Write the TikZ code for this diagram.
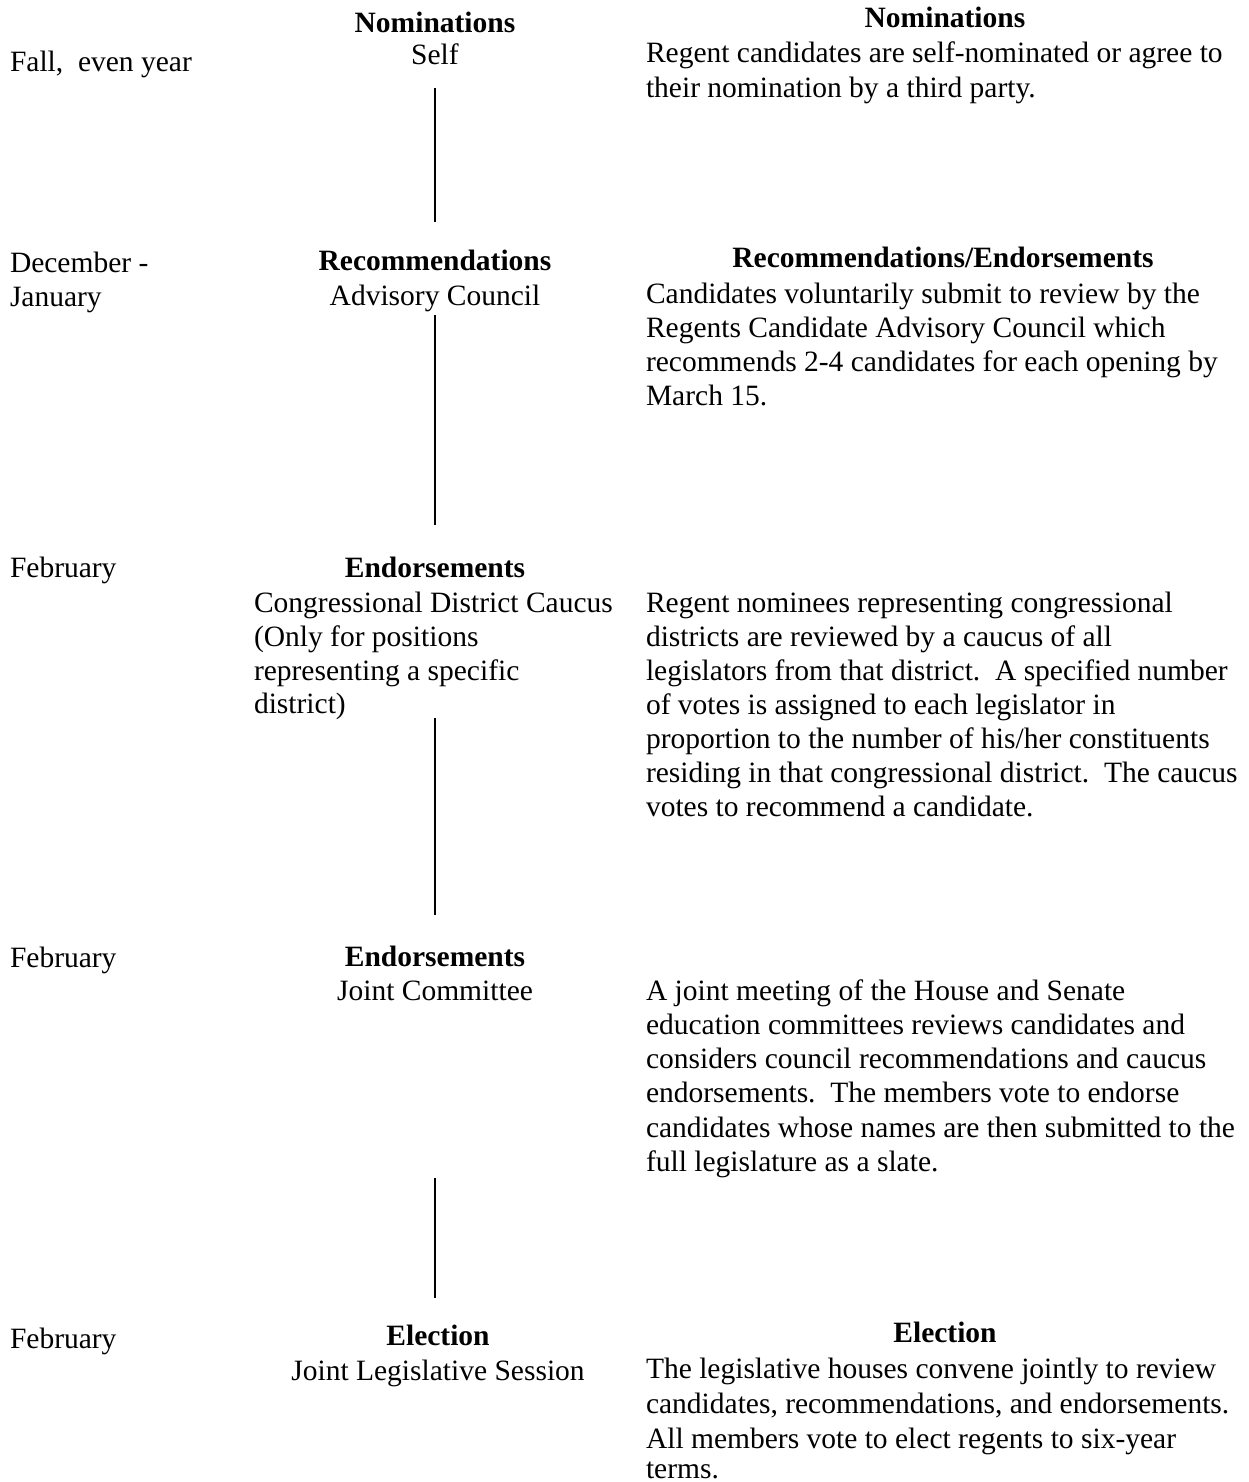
\documentclass[tikz,border=0pt]{standalone}
\usepackage{fontspec}
\setmainfont{Liberation Serif}
\begin{document}
\begin{tikzpicture}[x=1pt,y=-1pt,
  every node/.style={inner sep=0pt, outer sep=0pt, font=\fontsize{29.5}{34}\selectfont},
  txt/.style={anchor=base west},
  ctr/.style={anchor=base},
  hd/.style={anchor=base, font=\fontsize{29.5}{34}\selectfont\bfseries},
  conn/.style={draw=black, line width=1.2pt}]
\useasboundingbox[fill=white] (0,0) rectangle (1248,1482);

% ---- Left column (dates)
\node[txt] (d1) at (10,72) {Fall,\ \ even year};
\node[txt] (d2a) at (10,272) {December -};
\node[txt] (d2b) at (10,306) {January};
\node[txt] (d3) at (10,577) {February};
\node[txt] (d4) at (10,967) {February};
\node[txt] (d5) at (10,1348) {February};

% ---- Middle column (stages)
\node[hd] (m1h) at (435,33) {Nominations};
\node[ctr] (m1) at (435,65) {Self};
\node[hd] (m2h) at (435,270) {Recommendations};
\node[ctr] (m2) at (435,305) {Advisory Council};
\node[hd] (m3h) at (435,577) {Endorsements};
\node[txt] (m3a) at (254,612) {Congressional District Caucus};
\node[txt] (m3b) at (254,646) {(Only for positions};
\node[txt] (m3c) at (254,680) {representing a specific};
\node[txt] (m3d) at (254,713) {district)};
\node[hd] (m4h) at (435,966) {Endorsements};
\node[ctr] (m4) at (435,1000) {Joint Committee};
\node[hd] (m5h) at (438,1345) {Election};
\node[ctr] (m5) at (438,1380) {Joint Legislative Session};

% ---- Connectors
\coordinate (c1a) at (435,88);  \coordinate (c1b) at (435,222);
\coordinate (c2a) at (435,315); \coordinate (c2b) at (435,525);
\coordinate (c3a) at (435,718); \coordinate (c3b) at (435,915);
\coordinate (c4a) at (435,1178);\coordinate (c4b) at (435,1298);
\draw[conn] (c1a) -- (c1b);
\draw[conn] (c2a) -- (c2b);
\draw[conn] (c3a) -- (c3b);
\draw[conn] (c4a) -- (c4b);

% ---- Right column (descriptions)
\node[hd] (r1h) at (945,28) {Nominations};
\node[txt] (r1a) at (646,63) {Regent candidates are self-nominated or agree to};
\node[txt] (r1b) at (646,98) {their nomination by a third party.};

\node[hd] (r2h) at (943,267) {Recommendations/Endorsements};
\node[txt] (r2a) at (646,303) {Candidates voluntarily submit to review by the};
\node[txt] (r2b) at (646,337) {Regents Candidate Advisory Council which};
\node[txt] (r2c) at (646,371) {recommends 2-4 candidates for each opening by};
\node[txt] (r2d) at (646,405) {March 15.};

\node[txt] (r3a) at (646,612) {Regent nominees representing congressional};
\node[txt] (r3b) at (646,646) {districts are reviewed by a caucus of all};
\node[txt] (r3c) at (646,680) {legislators from that district.\ \ A specified number};
\node[txt] (r3d) at (646,714) {of votes is assigned to each legislator in};
\node[txt] (r3e) at (646,748) {proportion to the number of his/her constituents};
\node[txt] (r3f) at (646,782) {residing in that congressional district.\ \ The caucus};
\node[txt] (r3g) at (646,816) {votes to recommend a candidate.};

\node[txt] (r4a) at (646,1000) {A joint meeting of the House and Senate};
\node[txt] (r4b) at (646,1034) {education committees reviews candidates and};
\node[txt] (r4c) at (646,1068) {considers council recommendations and caucus};
\node[txt] (r4d) at (646,1102) {endorsements.\ \ The members vote to endorse};
\node[txt] (r4e) at (646,1137) {candidates whose names are then submitted to the};
\node[txt] (r4f) at (646,1171) {full legislature as a slate.};

\node[hd] (r5h) at (945,1342) {Election};
\node[txt] (r5a) at (646,1378) {The legislative houses convene jointly to review};
\node[txt] (r5b) at (646,1413) {candidates, recommendations, and endorsements.};
\node[txt] (r5c) at (646,1448) {All members vote to elect regents to six-year};
\node[txt] (r5d) at (646,1478) {terms.};
\end{tikzpicture}
\end{document}
